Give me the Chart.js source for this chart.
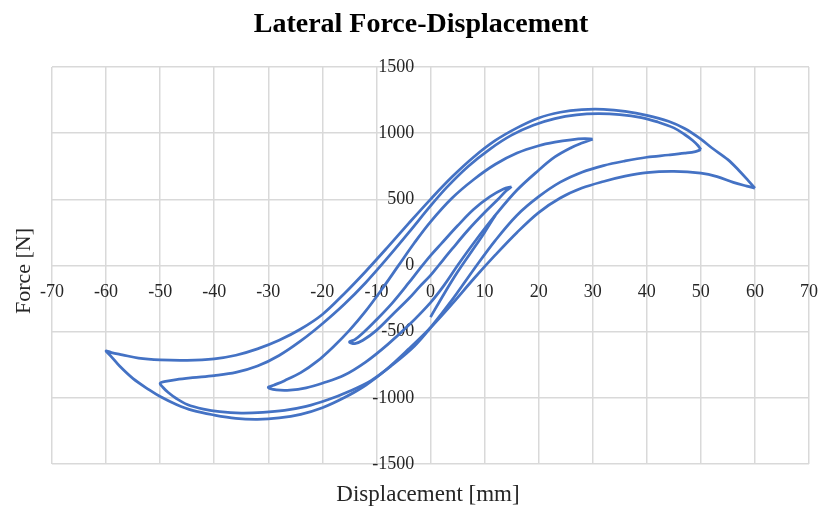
<!DOCTYPE html>
<html>
<head>
<meta charset="utf-8">
<script src="https://cdn.jsdelivr.net/npm/chart.js@4.4.1/dist/chart.umd.min.js"></script>
<style>
    html, body { margin: 0; padding: 0; background: #ffffff; }
    #wrap { width: 823px; height: 508px; }
</style>
</head>
<body>
<div id="wrap"><canvas id="hysteresis_chart"></canvas></div>
<script>
// tick ranges
var xRange = [-70, 70];
var yRange = [-1500, 1500];

// loop at +/-15 mm  [displacement mm, force N]
var upper15 = [[15,595],[13.5,578],[11,520],[8,425],[5,300],[2,165],[0,75],[-2,-25],[-4,-130],[-7,-280],[-10,-410],[-12.5,-510],[-14,-560],[-15,-578]];
var lower15 = [[-15,-578],[-14,-590],[-12.5,-565],[-10,-490],[-7,-370],[-4,-250],[-2,-160],[0,-75],[1.5,0],[4,125],[7,270],[10,400],[12.5,500],[14,565],[15,595]];

// loop at +/-30 mm
var upper30 = [[30,955],[28.5,958],[26,950],[23,932],[20,905],[16,850],[12,765],[8,650],[4,510],[0,330],[-3,170],[-6,-5],[-9,-180],[-12,-345],[-15,-490],[-18,-615],[-21,-725],[-24,-810],[-27,-870],[-29,-905],[-30,-922]];
var lower30 = [[-30,-922],[-28.5,-940],[-26,-942],[-23,-925],[-20,-890],[-16,-830],[-12,-730],[-8,-600],[-4,-450],[0,-280],[2.5,-150],[5,0],[8,170],[12,380],[16,570],[20,720],[23,820],[26,890],[28,925],[30,955]];

// loop at +/-50 mm
var upper50 = [[50,875],[49.5,905],[48.5,945],[47,990],[45,1040],[42,1085],[39,1118],[35,1140],[31,1147],[27,1138],[23,1110],[19,1060],[15,985],[11,880],[7,750],[3,590],[0,450],[-4,250],[-8,55],[-12,-130],[-16,-295],[-20,-440],[-24,-570],[-28,-680],[-32,-760],[-36,-808],[-40,-832],[-44,-848],[-47,-862],[-49,-876],[-50,-890]];
var lower50 = [[-50,-890],[-49.5,-920],[-48.5,-960],[-47,-1005],[-45,-1050],[-42,-1085],[-39,-1105],[-35,-1115],[-31,-1110],[-27,-1095],[-23,-1065],[-19,-1015],[-15,-950],[-11,-870],[-7,-750],[-3,-610],[0,-470],[4,-260],[8,-30],[12,190],[16,380],[20,520],[24,630],[28,705],[32,755],[36,790],[40,818],[44,835],[47,849],[49,861],[50,875]];

// loop at +/-60 mm
var upper60 = [[60,585],[58.8,640],[57,720],[55,800],[52,890],[50,955],[47,1035],[44,1090],[40,1135],[36,1165],[32,1180],[28,1178],[24,1158],[20,1115],[16,1040],[12,945],[8,820],[4,670],[0,500],[-4,320],[-8,135],[-12,-45],[-16,-215],[-20,-370],[-24,-480],[-28,-565],[-32,-630],[-36,-678],[-40,-705],[-45,-716],[-50,-713],[-54,-700],[-57,-675],[-59,-658],[-60,-646]];
var lower60 = [[-60,-646],[-59,-690],[-57.5,-760],[-55,-855],[-52,-940],[-50,-990],[-47,-1050],[-44,-1095],[-40,-1130],[-36,-1155],[-32,-1162],[-28,-1152],[-24,-1125],[-20,-1075],[-16,-1000],[-12,-905],[-8,-780],[-4,-630],[0,-470],[4,-290],[8,-100],[12,80],[16,250],[20,400],[24,510],[28,585],[32,635],[36,675],[40,702],[45,711],[50,698],[53,672],[56,628],[58.5,600],[60,585]];

// first loading piece, starts below the origin and runs into the 30 mm loop
var startPiece = [[0,-390],[2.5,-215],[5,-50],[7.5,100],[10,250],[12,380]];

function toPoints(list) {
    return list.map(function (p) { return {x: p[0], y: p[1]}; });
}

var lineColor = "#4472c4";
var serif = "'Liberation Serif', 'Times New Roman', serif";

function loopSet(a, b) {
    return {
        data: toPoints(a.concat(b.slice(1))),
        showLine: true,
        borderColor: lineColor,
        borderWidth: 2.75,
        pointRadius: 0,
        tension: 0.35,
        fill: false
    };
}

// no extra side padding from the tick labels, the plot box is set by layout.padding
function noPad(scale) {
    scale.paddingLeft = 0;
    scale.paddingRight = 0;
    scale.paddingTop = 0;
    scale.paddingBottom = 0;
}

// title and axis titles
var chartTexts = {
    id: 'chartTexts',
    afterDraw: function (chart) {
        var ctx = chart.ctx;
        ctx.save();
        ctx.fillStyle = "#000000";
        ctx.textAlign = "center";
        ctx.textBaseline = "alphabetic";
        ctx.font = "bold 28px " + serif;
        ctx.fillText("Lateral Force-Displacement", 421, 32);

        ctx.fillStyle = "#262626";
        ctx.font = "23px " + serif;
        ctx.fillText("Displacement [mm]", 428, 501);

        ctx.font = "22px " + serif;
        ctx.translate(30, 271);
        ctx.rotate(-Math.PI / 2);
        ctx.fillText("Force [N]", 0, 0);
        ctx.restore();
    }
};

var ctx = document.getElementById("hysteresis_chart").getContext("2d");
var hystChart = new Chart(ctx, {
    type: 'scatter',
    data: {
        datasets: [
            loopSet(upper60, lower60),
            loopSet(upper50, lower50),
            loopSet(upper30, lower30),
            loopSet(upper15, lower15),
            loopSet(startPiece, [])
        ]
    },
    options: {
        responsive: true,
        maintainAspectRatio: false,
        animation: false,
        layout: {
            padding: {left: 52, right: 14, top: 67, bottom: 44}
        },
        plugins: {
            legend: {display: false},
            title: {display: false},
            tooltip: {enabled: false}
        },
        scales: {
            x: {
                type: 'linear',
                min: xRange[0],
                max: xRange[1],
                position: {y: 0},
                afterFit: noPad,
                grid: {color: '#d9d9d9', lineWidth: 1.5, drawTicks: false},
                border: {display: false},
                ticks: {
                    stepSize: 10,
                    padding: 16,
                    color: '#262626',
                    font: {family: serif, size: 18},
                    callback: function (v) { return String(v); }
                }
            },
            y: {
                type: 'linear',
                min: yRange[0],
                max: yRange[1],
                // labels sit just left of the zero line
                position: {x: -3},
                afterFit: noPad,
                grid: {color: '#d9d9d9', lineWidth: 1.5, drawTicks: false},
                border: {display: false},
                ticks: {
                    stepSize: 500,
                    padding: 0,
                    color: '#262626',
                    font: {family: serif, size: 18},
                    callback: function (v) { return String(v); }
                }
            }
        }
    },
    plugins: [chartTexts]
});
</script>
</body>
</html>
